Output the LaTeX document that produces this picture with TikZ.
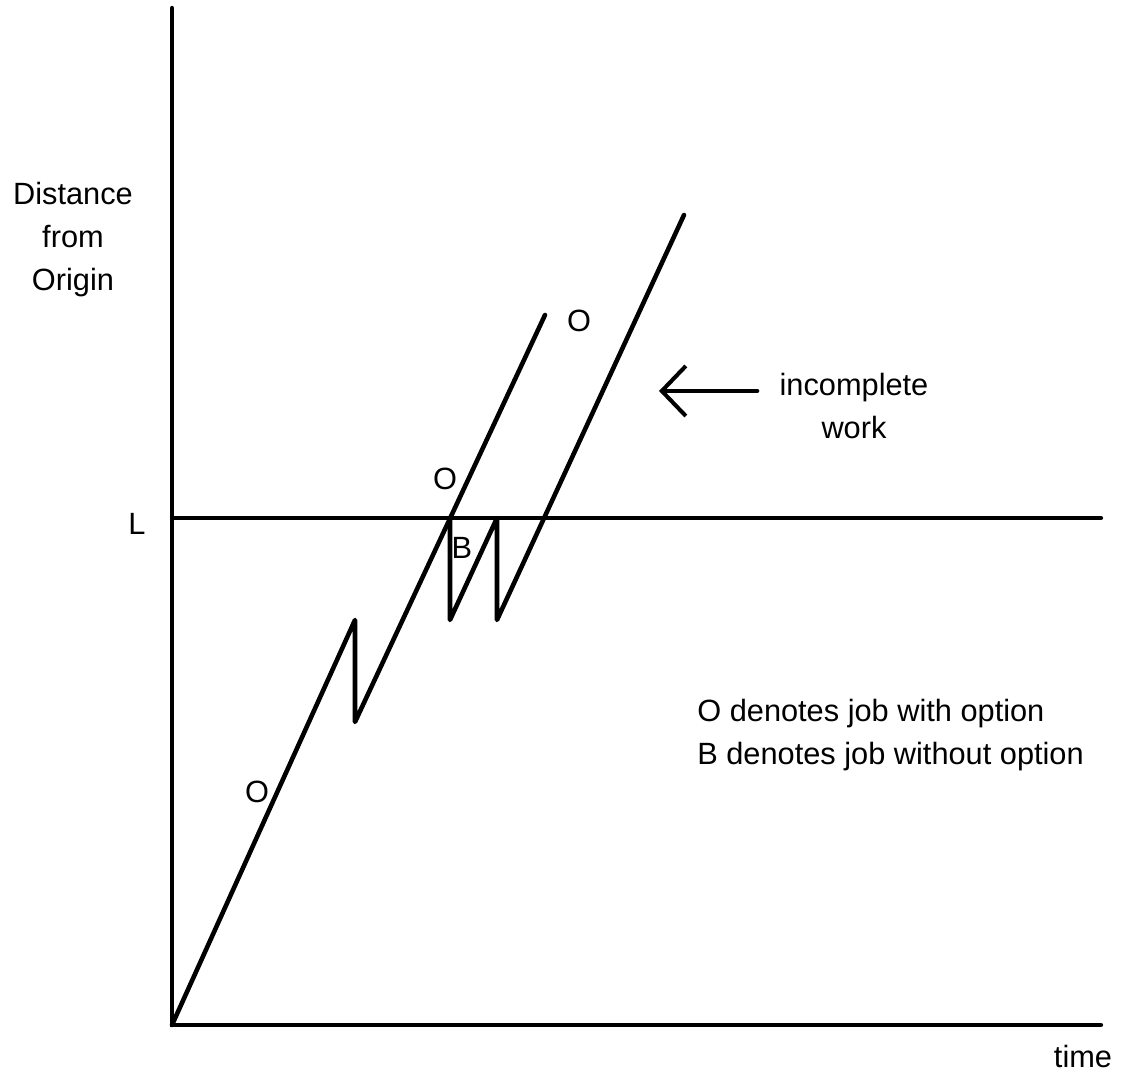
\documentclass[tikz,border=0pt]{standalone}
\usepackage{fontspec}
\setmainfont{Liberation Sans}
\usetikzlibrary{arrows.meta,positioning}
\tikzset{
  axisline/.style={line width=2.4pt,line cap=round},
  jobline/.style={line width=2.6pt,line join=round,line cap=round},
  joblabel/.style={font=\fontsize{17.5}{24}\selectfont,inner sep=0pt},
  plaintext/.style={font=\fontsize{17.5}{24.5}\selectfont,align=center,inner sep=0pt},
  pointer/.style={-{Straight Barb[length=4.8mm,width=10mm]},line width=2.3pt,line cap=round}
}
\begin{document}
\begin{tikzpicture}
  \useasboundingbox (-3.44,-1.22) rectangle (19.02,20.5);
  % axes and the level L
  \coordinate (O) at (0,0);
  \coordinate (ytop) at (0,20.34);
  \coordinate (xend) at (18.58,0);
  \coordinate (Lstart) at (0,10.14);
  \coordinate (Lend) at (18.58,10.14);
  \draw[axisline] (ytop) -- (O) -- (xend);
  \draw[axisline] (Lstart) -- (Lend);
  % first run of jobs
  \coordinate (a1) at (3.66,8.10);
  \coordinate (a2) at (3.66,6.06);
  \coordinate (a3) at (7.46,14.20);
  \draw[jobline] (O) -- (a1) -- (a2) -- (a3);
  % second run, starting at L
  \coordinate (b1) at (5.56,10.14);
  \coordinate (b2) at (5.56,8.10);
  \coordinate (b3) at (6.50,10.14);
  \coordinate (b4) at (6.50,8.10);
  \coordinate (b5) at (10.24,16.20);
  \draw[jobline] (b1) -- (b2) -- (b3) -- (b4) -- (b5);
  % labels
  \node[plaintext] (ylabel) at (-1.98,15.7) {Distance\\from\\Origin};
  \node[joblabel] (Llabel) at (-0.70,10.02) {L};
  \node[plaintext] (timelabel) at (18.22,-0.64) {time};
  \node[joblabel] (o1) at (1.70,4.66) {O};
  \node[joblabel] (o2) at (5.46,10.92) {O};
  \node[joblabel] (b) at (5.80,9.54) {B};
  \node[joblabel] (o3) at (8.14,14.08) {O};
  \node[plaintext,inner xsep=4.4mm] (note) at (13.64,12.38) {incomplete\\work};
  \coordinate (tip) at (9.74,12.68);
  \draw[pointer] (note.west |- tip) -- (tip);
  \node[plaintext,align=left,anchor=west] (legend) at (10.5,5.8)
    {O denotes job with option\\B denotes job without option};
\end{tikzpicture}
\end{document}
